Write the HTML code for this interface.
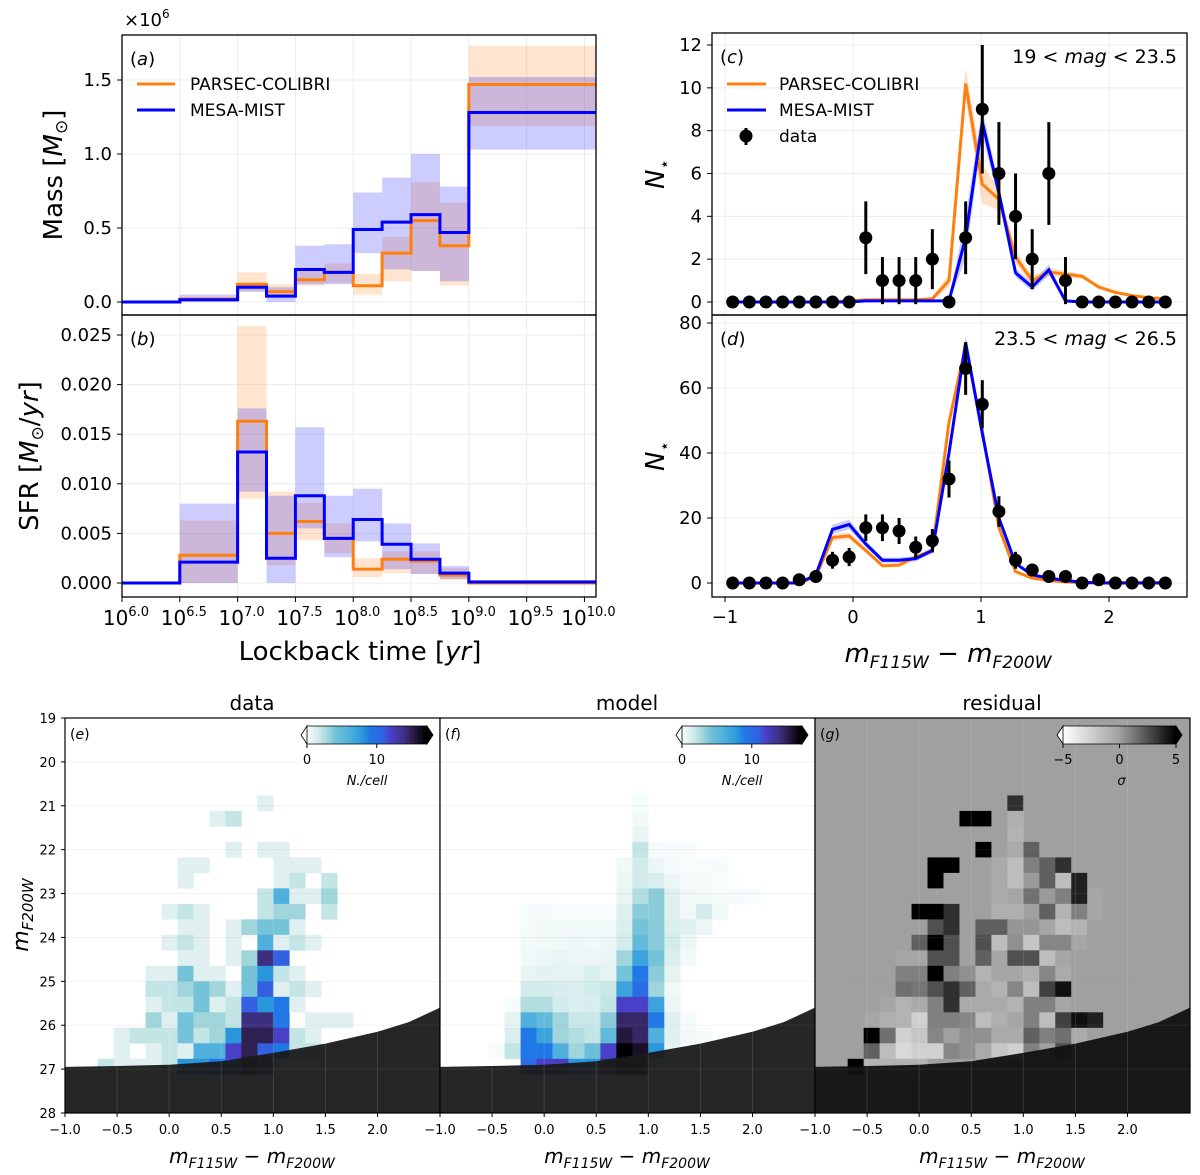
<!DOCTYPE html>
<html><head><meta charset="utf-8"><style>
body{margin:0;background:#fff}
svg{display:block;font-family:"DejaVu Sans","Liberation Sans",sans-serif}
</style></head><body>
<svg id="fig" xmlns="http://www.w3.org/2000/svg" width="1200" height="1175" viewBox="0 0 1200 1175"></svg>
<script>
// ---------- DATA ----------
const ageEdges=[6,6.5,7,7.25,7.5,7.75,8,8.25,8.5,8.75,9,10.1];
const massOrange=[0,0.02,0.12,0.07,0.15,0.20,0.11,0.33,0.55,0.38,1.47];
const massBlue=[0,0.015,0.10,0.04,0.22,0.20,0.49,0.54,0.59,0.47,1.28];
const massOrangeLo=[0,0.01,0.07,0.03,0.11,0.13,0.05,0.14,0.21,0.11,1.19];
const massOrangeHi=[0,0.03,0.20,0.12,0.21,0.26,0.19,0.44,0.81,0.67,1.73];
const massBlueLo=[0,0.0,0.07,0.0,0.12,0.12,0.33,0.22,0.21,0.14,1.03];
const massBlueHi=[0,0.05,0.12,0.10,0.38,0.39,0.74,0.84,1.00,0.78,1.52];
const sfrOrange=[0,0.0028,0.0163,0.005,0.0062,0.0045,0.0014,0.0024,0.0022,0.0008,0];
const sfrBlue=[0,0.0021,0.0132,0.0025,0.0088,0.0045,0.0064,0.0039,0.0024,0.001,0.0001];
const sfrOrangeLo=[0,0,0.0085,0.0018,0.0043,0.003,0.0006,0.001,0.0009,0.0003,0];
const sfrOrangeHi=[0,0.0063,0.0259,0.0092,0.0081,0.006,0.0025,0.0032,0.0032,0.0015,0.0001];
const sfrBlueLo=[0,0,0.0092,0,0.0055,0.0026,0.0042,0.0014,0.0009,0.0004,0];
const sfrBlueHi=[0,0.008,0.0176,0.0088,0.0157,0.0088,0.0095,0.006,0.004,0.0017,0.0003];
const massTicks=[0,0.5,1.0,1.5];
const sfrTicks=[0,0.005,0.01,0.015,0.02,0.025];
const ageTicks=[6,6.5,7,7.5,8,8.5,9,9.5,10];

const colorX=[-0.94,-0.81,-0.68,-0.55,-0.42,-0.29,-0.16,-0.03,0.10,0.23,0.36,0.49,0.62,0.75,0.88,1.01,1.14,1.27,1.40,1.53,1.66,1.79,1.92,2.05,2.18,2.31,2.44];
const dataC=[0,0,0,0,0,0,0,0,3,1,1,1,2,0,3,9,6,4,2,6,1,0,0,0,0,0,0];
const errC=[0,0,0,0,0,0,0,0,1.7,1.1,1.1,1.1,1.4,0,1.7,3,2.4,2,1.4,2.4,1.1,0,0,0,0,0,0];
const orangeC=[0,0,0,0,0,0,0,0.05,0.1,0.1,0.1,0.1,0.15,1.0,10.2,5.5,4.8,2.1,1.0,1.4,1.3,1.2,0.7,0.45,0.3,0.2,0.15];
const orangeCspread=[0,0,0,0,0,0,0,0.05,0.05,0.05,0.05,0.05,0.1,0.3,0.7,0.9,0.5,0.3,0.2,0.2,0.15,0.1,0.1,0.05,0.05,0.05,0.05];
const blueC=[0,0,0,0,0,0,0,0,0.05,0.05,0.05,0.05,0.05,0.05,3.0,8.4,5.1,1.36,0.7,1.5,0.05,0,0,0,0,0,0];
const blueCspread=[0,0,0,0,0,0,0,0,0.03,0.03,0.03,0.03,0.03,0.05,1.0,0.6,0.4,0.2,0.2,0.25,0.03,0,0,0,0,0,0];
const dataD=[0,0,0,0,1,2,7,8,17,17,16,11,13,32,66,55,22,7,4,2,2,0,1,0,0,0,0];
const errD=[0,0,0,0,1,1.4,2.6,2.8,4.1,4.1,4,3.3,3.6,5.7,8.1,7.4,4.7,2.6,2,1.4,1.4,0,1,0,0,0,0];
const orangeD=[0,0,0,0,0,2,14,14.5,10,5.3,5.5,8,10,49.5,73,47,17,3.5,1.5,0.8,0.3,0.1,0.1,0.1,0.1,0.1,0.1];
const blueD=[0,0,0,0,0,2.5,16.5,18,12,7,7,7.5,10,40,74,46,20,6,2.5,1.5,0.8,0.2,0,0,0,0,0];
const bandD=[0,0,0,0,0,0.5,1.5,1.5,1,0.8,0.8,0.8,1,1.5,2,1.5,1,0.5,0.3,0.2,0.1,0,0,0,0,0,0];
const cTicks=[0,2,4,6,8,10,12];
const dTicks=[0,20,40,60,80];
const colorTicks=[-1,0,1,2];

const gridData=[
[0,0,0,0,0,0,0,0,0,0,1,0,0,0,0,0,0,0],
[0,0,0,0,0,0,0,1,2,0,0,0,0,0,0,0,0,0],
[0,0,0,0,0,0,0,0,0,0,0,0,0,0,0,0,0,0],
[0,0,0,0,0,0,0,0,1,0,1,1,0,0,0,0,0,0],
[0,0,0,0,0,1,1,0,0,0,0,1,1,1,0,0,0,0],
[0,0,0,0,0,1,0,0,0,0,0,1,2,0,2,0,0,0],
[0,0,0,0,0,0,0,0,0,0,2,6,1,1,3,0,0,0],
[0,0,0,0,1,2,1,0,0,0,2,3,3,0,2,0,0,0],
[0,0,0,0,0,1,1,0,1,3,4,4,1,0,0,0,0,0],
[0,0,0,0,1,2,1,0,1,0,6,1,2,1,0,0,0,0],
[0,0,0,0,0,1,1,0,1,3,14,11,0,0,0,0,0,0],
[0,0,0,1,1,4,1,1,0,4,8,2,1,0,0,0,0,0],
[0,0,0,2,2,3,4,3,1,4,11,1,2,1,0,0,0,0],
[0,0,0,1,2,2,4,1,2,11,8,9,1,0,0,0,0,0],
[0,0,0,3,1,4,3,3,2,14,14,9,0,1,1,1,0,0],
[0,1,2,2,2,4,2,3,8,15,15,12,2,1,0,0,0,0],
[0,1,0,1,2,1,6,6,12,15,11,9,2,2,0,0,0,0],
[2,1,1,1,2,8,8,9,11,16,12,0,0,0,0,0,0,0]];
const gridModel=[
[0,0,0,0,0,0,0,0,0,0,0.3,0,0,0,0,0,0,0],
[0,0,0,0,0,0,0,0,0,0,0.4,0,0,0,0,0,0,0],
[0,0,0,0,0,0,0,0,0,0,0.7,0,0,0,0,0,0,0],
[0,0,0,0,0,0,0,0,0,0,2,0.3,0.2,0.2,0,0,0,0],
[0,0,0,0,0,0,0,0,0,0.5,1.5,0.6,0.3,0.2,0.2,0.3,0,0],
[0,0,0,0,0,0,0,0,0,0.6,1.5,1.2,0.6,0.3,0.3,0.2,0.1,0],
[0,0,0,0,0,0,0,0,0,0.7,2.5,3.5,1,0.5,0.4,0.3,0.3,0.2],
[0,0,0,0.3,0.3,0.2,0.2,0.2,0.2,1,3.5,3.5,1,0.5,1.5,0.5,0,0],
[0,0,0,0.3,0.4,0.5,0.4,0.5,0.5,1.2,4,3.5,1.2,1,0.6,0,0,0],
[0,0,0,0.4,0.5,0.5,0.6,0.5,0.6,1.5,5,3.5,1.5,0.6,0,0,0,0],
[0,0,0,0.5,0.6,0.7,0.6,0.6,0.7,3,7,4,1.2,0.4,0,0,0,0],
[0,0,0,0.7,0.9,0.8,0.8,1.2,0.8,4,9,3.5,0.8,0,0,0,0,0],
[0,0,0,1.5,1.5,1.3,1.2,1.5,1.8,7,10,3,0.5,0,0,0,0,0],
[0,0,0.3,2.5,2.5,1.5,1.2,1.3,2,12,12,7,0.6,0,0,0,0,0],
[0,0,0.8,6,5,3,1.8,1.8,3.5,14.5,14.5,9,1,0.3,0,0,0,0],
[0,0,1.2,9,7,3,2.5,2,5,15.5,14.5,6,1,0.4,0.3,0,0,0],
[0,0.3,2,9,9,6,3,4.5,12,17,16,8,0.8,0,0,0,0,0],
[0,0,0,10,12,12,8,8,14,17,17,0,0,0,0,0,0,0]];
const gridResid=[
[0,0,0,0,0,0,0,0,0,0,3.5,0,0,0,0,0,0,0],
[0,0,0,0,0,0,0,5,5,0,-0.8,0,0,0,0,0,0,0],
[0,0,0,0,0,0,0,0,0,0,-1,0,0,0,0,0,0,0],
[0,0,0,0,0,0,0,0,5,0,-0.5,2,0,0,0,0,0,0],
[0,0,0,0,0,5,5,0,0,-0.5,-1.5,1,2,3.5,0,0,0,0],
[0,0,0,0,0,5,0,0,0,-0.5,-1.5,0.2,2,-1.5,4,0,0,0],
[0,0,0,0,0,0,0,0,0,-0.5,-0.3,1.5,0.2,1,4,-0.3,0,0],
[0,0,0,0,5,5,3.5,0,0,-0.8,-0.8,0,2,-1,1,-0.3,0,0],
[0,0,0,0,0,2.5,3.5,0,2,2,0.3,0.3,-0.3,-1.5,-1,0,0,0],
[0,0,0,0,2,5,2.5,0,2.5,-1.5,0.5,-2,0.8,0.8,-0.3,0,0,0],
[0,0,0,-0.3,-0.3,2.5,2.5,0,2,-0.3,2.5,2.5,-1.5,-0.3,0,0,0,0],
[0,0,0,1,1,5,1,0.5,-1,-0.3,-0.3,-0.8,0.8,-0.5,0,0,0,0],
[0,0,0,1.5,1.3,2.5,3.5,2,-0.5,-1,0.8,-1.5,3,4.5,0,0,0,0],
[0,0,-0.3,-1,-0.5,1,3.5,-0.5,-0.5,-0.5,-1,1,1,-0.3,0,0,0,0],
[0,-0.3,-0.8,-1,-2.5,1,1,0.8,-1.5,-0.8,-0.3,1,-1.5,3,4.5,4,0,0],
[0,5,1.5,-2.5,-2,0.8,0,0.5,0.5,-0.5,-0.5,2,1,1.5,-0.5,0,0,0],
[0,2,-1.5,-3,-2.5,-2.5,0.8,0.5,-0.5,-2,-2.5,1,0,2.5,0,0,0,0],
[5,-1,-1,-1,-1,0,0,0,0,0,0,0,0,0,0,0,0,0]];
const maskColor=[-1,-0.5,0,0.5,1.0,1.5,2.0,2.3,2.6];
const maskMag=[26.95,26.93,26.9,26.82,26.63,26.42,26.15,25.93,25.6];
const cmdXTicks=[-1,-0.5,0,0.5,1,1.5,2];
const cmdYTicks=[19,20,21,22,23,24,25,26,27,28];

// ---------- HELPERS ----------
const NS='http://www.w3.org/2000/svg';
const svg=document.getElementById('fig');
function mk(tag,attrs,parent){const e=document.createElementNS(NS,tag);for(const k in attrs)e.setAttribute(k,attrs[k]);(parent||svg).appendChild(e);return e;}
function txt(s,x,y,size,anchor,parent,extra){const t=mk('text',Object.assign({x:x,y:y,'font-size':size,'text-anchor':anchor||'middle',fill:'#000'},extra||{}),parent);t.textContent=s;return t;}
function lin(d0,d1,r0,r1){return v=>r0+(v-d0)/(d1-d0)*(r1-r0);}
function stepPath(edges,vals,xf,yf){let d='M'+xf(edges[0])+','+yf(vals[0]);for(let i=0;i<vals.length;i++){d+=' H'+xf(edges[i+1]);if(i+1<vals.length)d+=' V'+yf(vals[i+1]);}return d;}
function linePath(xs,ys,xf,yf){return xs.map((x,i)=>(i?'L':'M')+xf(x)+','+yf(ys[i])).join(' ');}
function bandPath(xs,lo,hi,xf,yf){let d=xs.map((x,i)=>(i?'L':'M')+xf(x)+','+yf(hi[i])).join(' ');for(let i=xs.length-1;i>=0;i--)d+=' L'+xf(xs[i])+','+yf(lo[i]);return d+'Z';}
const ORANGE='#ff7f0e',BLUE='#0000ff',GRID='#ececec';

// ---------- PANEL A/B ----------
const xA=lin(6,10.1,122,596);
const yA=lin(0,1.5,302,80);
const yB=lin(0,0.025,583,335);
function ageGrid(g,top,bot){ageTicks.forEach(t=>{const l=mk('line',{x1:xA(t),x2:xA(t),y1:top,y2:bot,stroke:GRID,'stroke-width':1},g);});}
const gA=mk('g',{});
ageGrid(gA,35,315);
massTicks.forEach(t=>{const l=mk('line',{x1:122,x2:596,y1:yA(t),y2:yA(t),stroke:GRID},gA);
 mk('line',{x1:117,x2:122,y1:yA(t),y2:yA(t),stroke:'#000'},gA);
 const tl=txt(t.toFixed(1),112,yA(t)+6,18,'end',gA);});
for(let i=0;i<massOrange.length;i++){
 const r=mk('rect',{x:xA(ageEdges[i]),width:xA(ageEdges[i+1])-xA(ageEdges[i]),y:yA(massOrangeHi[i]),height:yA(massOrangeLo[i])-yA(massOrangeHi[i]),fill:ORANGE,'fill-opacity':0.2},gA);
 
 const b=mk('rect',{x:xA(ageEdges[i]),width:xA(ageEdges[i+1])-xA(ageEdges[i]),y:yA(massBlueHi[i]),height:yA(massBlueLo[i])-yA(massBlueHi[i]),fill:BLUE,'fill-opacity':0.2},gA);
 }
let p=mk('path',{d:stepPath(ageEdges,massOrange,xA,yA),fill:'none',stroke:ORANGE,'stroke-width':3},gA);

p=mk('path',{d:stepPath(ageEdges,massBlue,xA,yA),fill:'none',stroke:BLUE,'stroke-width':3},gA);

mk('rect',{x:122,y:35,width:474,height:280,fill:'none',stroke:'#000','stroke-width':1.3},gA);
txt('(',130,65,18,'start',gA).innerHTML='(<tspan font-style="italic">a</tspan>)';
let t=txt('',124,26,18,'start',gA);t.innerHTML='×10<tspan dy="-8" font-size="12">6</tspan>';
t=txt('',0,0,26,'middle',gA,{transform:'translate(62,175) rotate(-90)'});t.innerHTML='Mass [<tspan font-style="italic">M</tspan><tspan font-size="17" dy="5">⊙</tspan><tspan dy="-5">]</tspan>';
const legA=mk('g',{},gA);
mk('line',{x1:137,x2:175,y1:84,y2:84,stroke:ORANGE,'stroke-width':3},legA);txt('PARSEC-COLIBRI',190,90,17,'start',legA);
mk('line',{x1:137,x2:175,y1:110,y2:110,stroke:BLUE,'stroke-width':3},legA);txt('MESA-MIST',190,116,17,'start',legA);

const gB=mk('g',{});
ageGrid(gB,315,597);
sfrTicks.forEach(t=>{const l=mk('line',{x1:122,x2:596,y1:yB(t),y2:yB(t),stroke:GRID},gB);
 mk('line',{x1:117,x2:122,y1:yB(t),y2:yB(t),stroke:'#000'},gB);
 const tl=txt(t.toFixed(3),112,yB(t)+6,18,'end',gB);});
for(let i=0;i<sfrOrange.length;i++){
 const r=mk('rect',{x:xA(ageEdges[i]),width:xA(ageEdges[i+1])-xA(ageEdges[i]),y:yB(sfrOrangeHi[i]),height:yB(sfrOrangeLo[i])-yB(sfrOrangeHi[i]),fill:ORANGE,'fill-opacity':0.2},gB);
 
 const b=mk('rect',{x:xA(ageEdges[i]),width:xA(ageEdges[i+1])-xA(ageEdges[i]),y:yB(sfrBlueHi[i]),height:yB(sfrBlueLo[i])-yB(sfrBlueHi[i]),fill:BLUE,'fill-opacity':0.2},gB);
 }
p=mk('path',{d:stepPath(ageEdges,sfrOrange,xA,yB),fill:'none',stroke:ORANGE,'stroke-width':3},gB);

p=mk('path',{d:stepPath(ageEdges,sfrBlue,xA,yB),fill:'none',stroke:BLUE,'stroke-width':3},gB);

mk('rect',{x:122,y:315,width:474,height:282,fill:'none',stroke:'#000','stroke-width':1.3},gB);
txt('',130,345,18,'start',gB).innerHTML='(<tspan font-style="italic">b</tspan>)';
ageTicks.forEach(v=>{mk('line',{x1:xA(v),x2:xA(v),y1:597,y2:602,stroke:'#000'},gB);
 const tl=txt('',xA(v)+4,625,20,'middle',gB);tl.innerHTML='10<tspan dy="-9" font-size="13">'+v.toFixed(1)+'</tspan>';});
t=txt('',360,660,26,'middle',gB);t.innerHTML='Lockback time [<tspan font-style="italic">yr</tspan>]';
t=txt('',0,0,26,'middle',gB,{transform:'translate(38,456) rotate(-90)'});t.innerHTML='SFR [<tspan font-style="italic">M</tspan><tspan font-size="17" dy="5">⊙</tspan><tspan dy="-5">/</tspan><tspan font-style="italic">yr</tspan>]';

// ---------- PANEL C/D ----------
const xC=lin(0,1,853,981);
const yC=lin(0,12,302,45);
const yD=lin(0,80,583,323);
function colorPanel(g,top,bot,yf,ticks,dataArr,errArr,oArr,oLo,oHi,bArr,bLo,bHi,name){
 colorTicks.forEach(v=>{const l=mk('line',{x1:xC(v),x2:xC(v),y1:top,y2:bot,stroke:GRID},g);});
 ticks.forEach(v=>{const l=mk('line',{x1:712,x2:1187,y1:yf(v),y2:yf(v),stroke:GRID},g);
  mk('line',{x1:707,x2:712,y1:yf(v),y2:yf(v),stroke:'#000'},g);
  const tl=txt(String(v),702,yf(v)+6,18,'end',g);});
 let q=mk('path',{d:bandPath(colorX,oLo,oHi,xC,yf),fill:ORANGE,'fill-opacity':0.25},g);
 q=mk('path',{d:bandPath(colorX,bLo,bHi,xC,yf),fill:BLUE,'fill-opacity':0.2},g);
 q=mk('path',{d:linePath(colorX,oArr,xC,yf),fill:'none',stroke:ORANGE,'stroke-width':3},g);
 q=mk('path',{d:linePath(colorX,bArr,xC,yf),fill:'none',stroke:BLUE,'stroke-width':3},g);
 colorX.forEach((x,i)=>{
  if(errArr[i]>0){const e=mk('line',{x1:xC(x),x2:xC(x),y1:yf(dataArr[i]-errArr[i]),y2:yf(dataArr[i]+errArr[i]),stroke:'#000','stroke-width':3},g);}
  const c=mk('circle',{cx:xC(x),cy:yf(dataArr[i]),r:6.5,fill:'#000'},g);});
 mk('rect',{x:712,y:top,width:475,height:bot-top,fill:'none',stroke:'#000','stroke-width':1.3},g);
 const nl=txt('',0,0,26,'middle',g,{transform:'translate(664,'+((top+bot)/2)+') rotate(-90)'});nl.innerHTML='<tspan font-style="italic">N</tspan><tspan font-size="17" dy="6">⋆</tspan>';
}
const cLo=orangeC.map((v,i)=>v-orangeCspread[i]),cHi=orangeC.map((v,i)=>v+orangeCspread[i]);
const cbLo=blueC.map((v,i)=>v-blueCspread[i]),cbHi=blueC.map((v,i)=>v+blueCspread[i]);
const gC=mk('g',{});
colorPanel(gC,33,315,yC,cTicks,dataC,errC,orangeC,cLo,cHi,blueC,cbLo,cbHi,'c');
txt('',720,63,18,'start',gC).innerHTML='(<tspan font-style="italic">c</tspan>)';
txt('',1177,63,19,'end',gC).innerHTML='19 &lt; <tspan font-style="italic">mag</tspan> &lt; 23.5';
const legC=mk('g',{},gC);
mk('line',{x1:727,x2:766,y1:84,y2:84,stroke:ORANGE,'stroke-width':3},legC);txt('PARSEC-COLIBRI',779,90,17,'start',legC);
mk('line',{x1:727,x2:766,y1:110,y2:110,stroke:BLUE,'stroke-width':3},legC);txt('MESA-MIST',779,116,17,'start',legC);
mk('line',{x1:746,x2:746,y1:128,y2:145,stroke:'#000','stroke-width':3},legC);mk('circle',{cx:746,cy:136,r:6.5,fill:'#000'},legC);txt('data',779,142,17,'start',legC);

const dLo=orangeD.map((v,i)=>v-bandD[i]*0.7),dHi=orangeD.map((v,i)=>v+bandD[i]*0.7);
const dbLo=blueD.map((v,i)=>v-bandD[i]),dbHi=blueD.map((v,i)=>v+bandD[i]);
const gD=mk('g',{});
colorPanel(gD,315,597,yD,dTicks,dataD,errD,orangeD,dLo,dHi,blueD,dbLo,dbHi,'d');
txt('',720,345,18,'start',gD).innerHTML='(<tspan font-style="italic">d</tspan>)';
txt('',1177,345,19,'end',gD).innerHTML='23.5 &lt; <tspan font-style="italic">mag</tspan> &lt; 26.5';
colorTicks.forEach(v=>{mk('line',{x1:xC(v),x2:xC(v),y1:597,y2:602,stroke:'#000'},gD);
 const tl=txt(v<0?'−'+Math.abs(v):String(v),xC(v),623,18,'middle',gD);});
t=txt('',948,662,26,'middle',gD);t.innerHTML='<tspan font-style="italic">m</tspan><tspan font-size="17" dy="6" font-style="italic">F115W</tspan><tspan dy="-6"> − </tspan><tspan font-style="italic">m</tspan><tspan font-size="17" dy="6" font-style="italic">F200W</tspan>';

// ---------- CMD PANELS ----------
const cmapStops=[[0,[255,255,255]],[1,[224,240,240]],[2,[196,229,230]],[3,[160,213,220]],[4,[116,195,216]],[6,[79,176,221]],[8,[42,150,220]],[9,[31,120,230]],[11,[50,96,224]],[12,[74,64,200]],[14,[61,47,128]],[15,[46,32,80]],[17,[0,0,0]]];
function cmapColor(v){if(v<=0)return null;for(let i=1;i<cmapStops.length;i++){if(v<=cmapStops[i][0]){const a=cmapStops[i-1],b=cmapStops[i],f=(v-a[0])/(b[0]-a[0]);return 'rgb('+a[1].map((c,j)=>Math.round(c+(b[1][j]-c)*f)).join(',')+')';}}return '#000';}
function grayColor(v){v=Math.max(-5,Math.min(5,v));let g=v<0?160+(255-160)*(-v/5):160*(1-v/5);g=Math.round(g);return 'rgb('+g+','+g+','+g+')';}
const cellW=0.1533,cellH=0.353;
const yM=lin(19,28,718,1113);
function cmdPanel(x0,grid,colorFn,bg,maskFill,label,title,name){
 const xf=lin(-1,2.6,x0,x0+375);
 const g=mk('g',{});
 mk('rect',{x:x0,y:718,width:375,height:395,fill:bg},g);
 grid.forEach((row,r)=>row.forEach((v,k)=>{const col=colorFn(v);if(!col)return;
  const xl=1.0+(k-11)*cellW,mt=25+(r-12)*cellH;
  const c=mk('rect',{x:xf(xl),y:yM(mt),width:xf(xl+cellW)-xf(xl)+0.3,height:yM(mt+cellH)-yM(mt)+0.3,fill:col},g);
  }));
 let d='M'+xf(maskColor[0])+','+yM(maskMag[0]);maskColor.forEach((c,i)=>{d+=' L'+xf(c)+','+yM(maskMag[i]);});d+=' L'+(x0+375)+',1113 L'+x0+',1113 Z';
 const m=mk('path',{d:d,fill:maskFill,'fill-opacity':0.95},g);
 cmdXTicks.forEach(v=>{const l=mk('line',{x1:xf(v),x2:xf(v),y1:718,y2:1113,stroke:'#fff','stroke-opacity':0.12},g);
  mk('line',{x1:xf(v),x2:xf(v),y1:1113,y2:1117,stroke:'#000'},g);
  const tl=txt(v<0?'−'+Math.abs(v).toFixed(1):v.toFixed(1),xf(v),1134,13,'middle',g);});
 cmdYTicks.forEach(v=>{const l=mk('line',{x1:x0,x2:x0+375,y1:yM(v),y2:yM(v),stroke:'#999','stroke-opacity':0.12},g);});
 mk('rect',{x:x0,y:718,width:375,height:395,fill:'none',stroke:'#000','stroke-width':1.2},g);
 txt('',x0+5,739,14,'start',g).innerHTML='(<tspan font-style="italic">'+label+'</tspan>)';
 const tt=txt(title,x0+187,710,20,'middle',g);
 const xl=txt('',x0+187,1163,20,'middle',g);xl.innerHTML='<tspan font-style="italic">m</tspan><tspan font-size="14" dy="5" font-style="italic">F115W</tspan><tspan dy="-5"> − </tspan><tspan font-style="italic">m</tspan><tspan font-size="14" dy="5" font-style="italic">F200W</tspan>';
 
 return g;
}
cmdPanel(65,gridData,cmapColor,'#fff','#1a1a1a','e','data','panel-e-data-cmd');
cmdPanel(440,gridModel,cmapColor,'#fff','#1a1a1a','f','model','panel-f-model-cmd');
cmdPanel(815,gridResid,v=>grayColor(v),grayColor(0),'#111','g','residual','panel-g-residual-cmd');
const gY=mk('g',{});
cmdYTicks.forEach(v=>{mk('line',{x1:61,x2:65,y1:yM(v),y2:yM(v),stroke:'#000'},gY);const tl=txt(String(v),56,yM(v)+5,13,'end',gY);});
t=txt('',0,0,22,'middle',gY,{transform:'translate(28,915) rotate(-90)'});t.innerHTML='<tspan font-style="italic">m</tspan><tspan font-size="15" dy="5" font-style="italic">F200W</tspan>';

const cbTicksCount=[0,10];const cbTicksSigma=[-5,0,5];
function colorbar(x0,x1,vmin,vmax,colorFn,ticks,label,name,lowCol,highCol){
 const g=mk('g',{});
 const xf=lin(vmin,vmax,x0,x1);const n=60;
 for(let i=0;i<n;i++){const v=vmin+(vmax-vmin)*(i+0.5)/n;mk('rect',{x:xf(vmin)+(x1-x0)*i/n,y:726,width:(x1-x0)/n+0.5,height:18,fill:colorFn(v)||'#fff'},g);}
 mk('path',{d:'M'+x0+',726 L'+(x0-6)+',735 L'+x0+',744 Z',fill:lowCol,stroke:'#000','stroke-width':0.8},g);
 mk('path',{d:'M'+x1+',726 L'+(x1+6)+',735 L'+x1+',744 Z',fill:highCol,stroke:'#000','stroke-width':0.8},g);
 mk('path',{d:'M'+x0+',726 H'+x1+' M'+x0+',744 H'+x1,stroke:'#000','stroke-width':0.8},g);
 ticks.forEach(v=>{mk('line',{x1:xf(v),x2:xf(v),y1:744,y2:748,stroke:'#000'},g);txt(v<0?'−'+Math.abs(v):String(v),xf(v),764,13,'middle',g);});
 const l=txt('',(x0+x1)/2+(name==='colorbar-sigma'?2:0),785,13,'middle',g);l.innerHTML=label;
}
colorbar(307,427,0,17.2,cmapColor,cbTicksCount,'<tspan font-style="italic">N</tspan><tspan font-style="italic">.</tspan><tspan font-style="italic">/cell</tspan>','colorbar-data','#fff','#000');
colorbar(682,802,0,17.2,cmapColor,cbTicksCount,'<tspan font-style="italic">N</tspan><tspan font-style="italic">.</tspan><tspan font-style="italic">/cell</tspan>','colorbar-model','#fff','#000');
colorbar(1063,1176,-5,5,grayColor,cbTicksSigma,'<tspan font-style="italic">σ</tspan>','colorbar-sigma','#fff','#000');
</script>
</body></html>
